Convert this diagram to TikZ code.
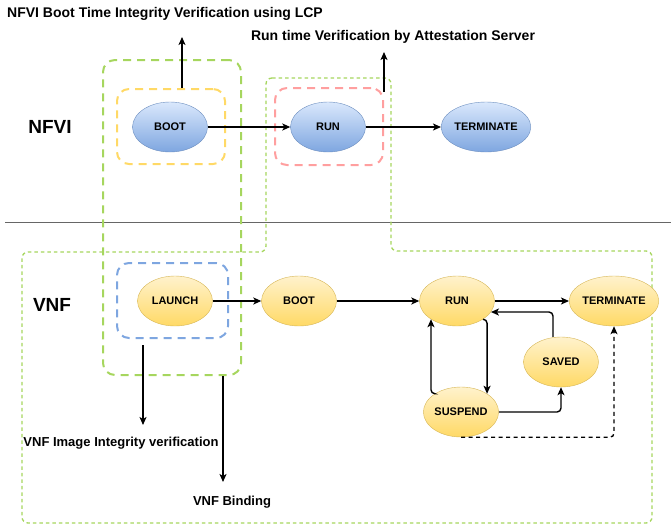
\documentclass[tikz,border=0pt]{standalone}
\usepackage{fontspec}
\setmainfont{Liberation Sans}
\usetikzlibrary{arrows.meta,shapes.geometric}
\definecolor{lime}{HTML}{A6D65E}
\definecolor{bluefill}{HTML}{DAE8FC}
\definecolor{bluegrad}{HTML}{7EA6E0}
\definecolor{bluedraw}{HTML}{6C8EBF}
\definecolor{yelfill}{HTML}{FFF2CC}
\definecolor{yelgrad}{HTML}{FFD966}
\definecolor{yeldraw}{HTML}{D6B656}
\definecolor{pinkdash}{HTML}{FF9F9F}
\newcommand{\arr}{-{Stealth[length=8pt,width=7pt,inset=2pt]}}
\tikzset{
  state/.style={ellipse,minimum width=75pt,minimum height=50pt,inner sep=0pt,
    font=\fontsize{11}{13}\selectfont\bfseries},
  nfvi/.style={state,draw=bluedraw,top color=bluefill,bottom color=bluegrad},
  vnf/.style={state,draw=yeldraw,top color=yelfill,bottom color=yelgrad},
  dbox/.style={draw,rounded corners=12pt,line width=2pt,dash pattern=on 8pt off 6pt,
    inner sep=0pt},
  title/.style={font=\fontsize{14}{16}\selectfont\bfseries},
  note/.style={font=\fontsize{13}{15}\selectfont\bfseries},
  layer/.style={font=\fontsize{19}{21}\selectfont\bfseries},
  flow/.style={line width=1.4pt,rounded corners=4pt}
}

\begin{document}
\begin{tikzpicture}[x=1pt,y=-1pt]
\useasboundingbox (0,0) rectangle (671,525);
% layers
\draw[gray!80!black,line width=1pt] (5,222) -- (671,222);
\node[layer] (nfvilbl) at (50,127) {NFVI};
\node[layer] (vnflbl) at (52,305) {VNF};
% verification regions
\draw[lime,line width=1.3pt,dash pattern=on 3.5pt off 3pt,rounded corners=6pt]
  (266,78) -- (391,78) -- (391,251) -- (652,251) -- (652,523)
  -- (22,523) -- (22,252) -- (266,252) -- cycle;
\node[dbox,lime,minimum width=138pt,minimum height=315pt] (lcpbox) at (172,217.5) {};
\node[dbox,yelgrad,minimum width=108pt,minimum height=75pt] (bootbox) at (171,126.5) {};
\node[dbox,pinkdash,minimum width=108pt,minimum height=77pt] (runbox) at (329,126.5) {};
\node[dbox,bluegrad,minimum width=111pt,minimum height=75pt] (launchbox) at (172.5,300.5) {};
% NFVI states
\node[nfvi] (nboot) at (170,127) {BOOT};
\node[nfvi] (nrun) at (328,127) {RUN};
\node[nfvi] (nterm) at (486,127) {TERMINATE};
\draw[\arr,flow] (nboot) -- (nrun);
\draw[\arr,flow] (nrun) -- (nterm);
% VNF states
\node[vnf] (launch) at (175,301) {LAUNCH};
\node[vnf] (vboot) at (299,301) {BOOT};
\node[vnf] (vrun) at (457,301) {RUN};
\node[vnf] (vterm) at (614,301) {TERMINATE};
\node[vnf] (saved) at (561,362) {SAVED};
\node[vnf] (susp) at (461,412) {SUSPEND};
\draw[\arr,flow] (launch) -- (vboot);
\draw[\arr,flow] (vboot) -- (vrun);
\draw[\arr,flow] (vrun) -- (vterm);
\draw[\arr,flow] ([xshift=-8pt]saved.north) |- (vrun.-18);
\draw[\arr,flow] (vrun.-35) -| (susp.35);
\draw[\arr,flow] (susp.145) -| (vrun.-145);
\draw[\arr,flow] (susp.east) -| (saved.south);
\draw[\arr,flow,dash pattern=on 4pt off 3.5pt] (susp.south) -| (vterm.south);
% verification notes
\node[title] (lcplbl) at (165,14) {NFVI Boot Time Integrity Verification using LCP};
\node[title] (attlbl) at (393,37) {Run time Verification by Attestation Server};
\node[note] (imglbl) at (121,443) {VNF Image Integrity verification};
\node[note] (bndlbl) at (232,502) {VNF Binding};
\coordinate (lcpend) at (182,37);
\coordinate (attstart) at (384,92);
\coordinate (attend) at (384,52);
\coordinate (imgstart) at (143,345);
\coordinate (imgend) at (143,425);
\coordinate (bndend) at (223,482);
\draw[\arr,flow] (bootbox.north -| lcpend) -- (lcpend);
\draw[\arr,flow] (attstart) -- (attend);
\draw[\arr,flow] (imgstart) -- (imgend);
\draw[\arr,flow] (lcpbox.south -| bndend) -- (bndend);
\end{tikzpicture}
\end{document}
